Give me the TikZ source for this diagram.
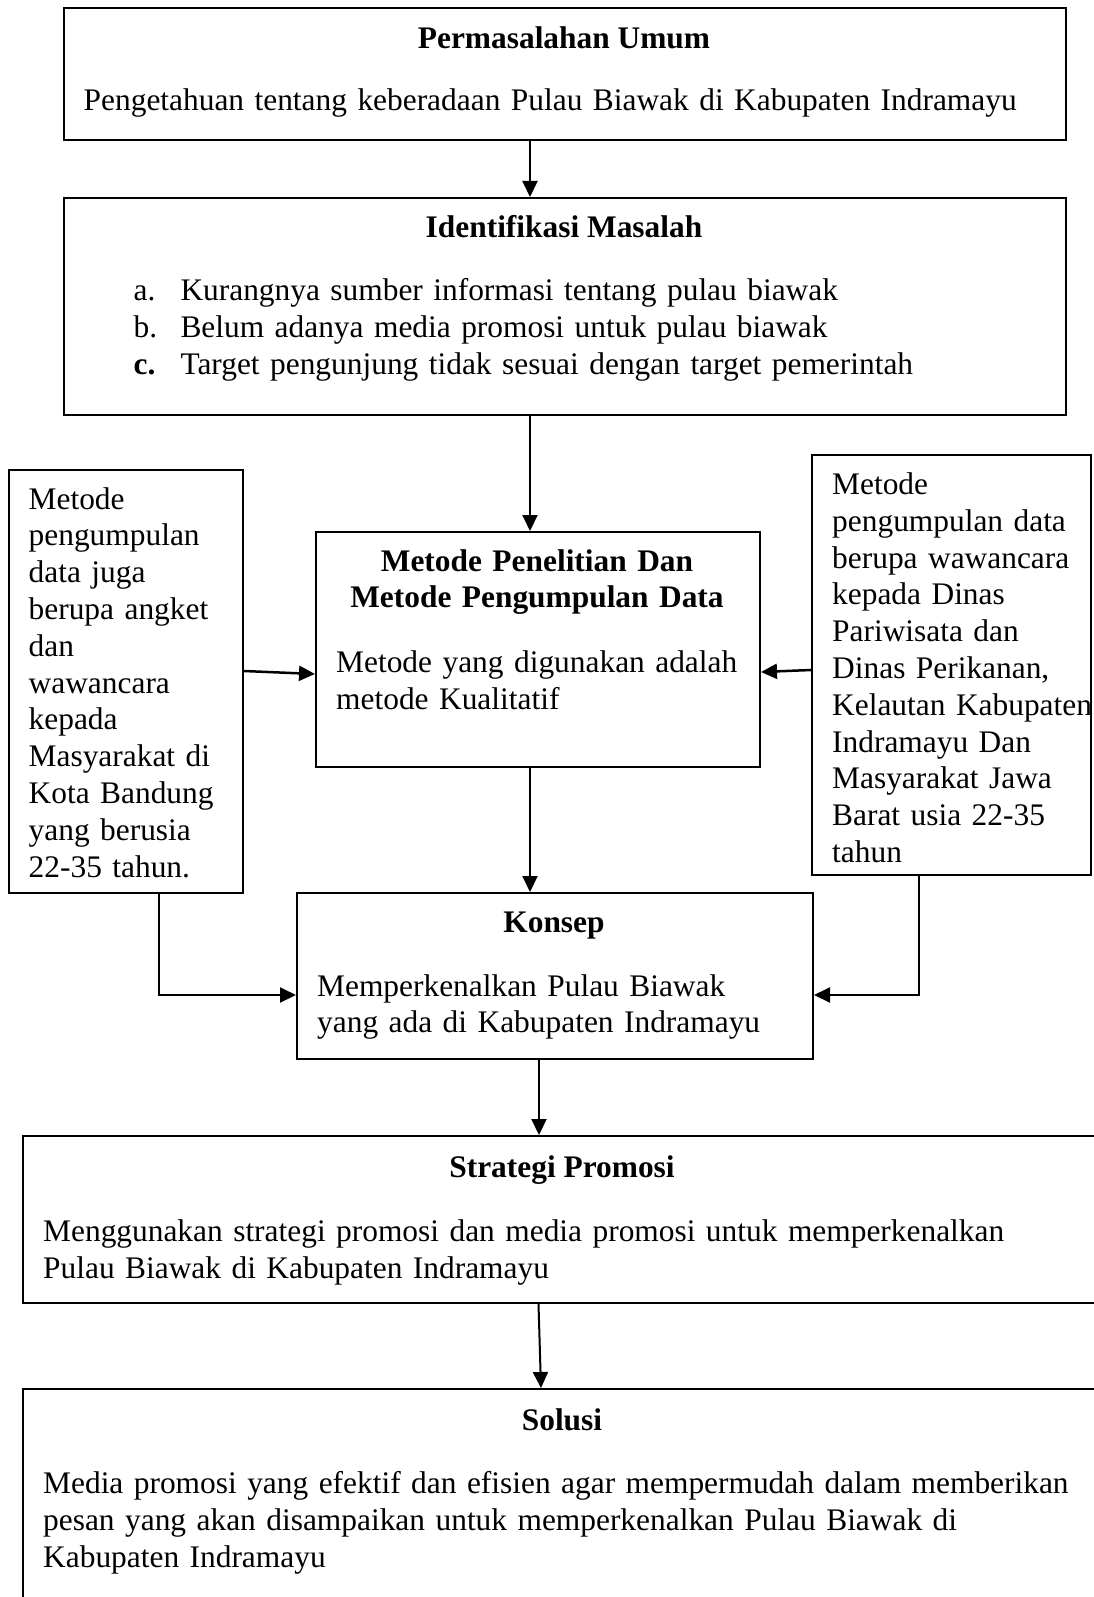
\documentclass[tikz,border=0pt]{standalone}
\usepackage{fontspec}
\setmainfont{Liberation Serif}
\usetikzlibrary{arrows.meta}
\hyphenpenalty=10000
\exhyphenpenalty=10000
\begin{document}
\begin{tikzpicture}[x=1pt,y=-1pt,
  box/.style={draw, line width=2pt, inner sep=0pt, anchor=north west},
  ttl/.style={font=\fontsize{31.4}{36.8}\selectfont\bfseries, anchor=base, inner sep=0pt},
  txt/.style={font=\fontsize{31.4}{36.8}\selectfont, anchor=base west, inner sep=0pt, text width=#1, align=left},
  txt/.default=1100pt,
  conn/.style={line width=2pt, -{Triangle[length=16pt,width=15pt]}},
]
\useasboundingbox (0,0) rectangle (1094,1597);
\fill[white] (0,0) rectangle (1094,1597);
\clip (0,0) rectangle (1094,1597);

% boxes
\node[box, minimum width=1002pt, minimum height=132pt] (b1) at (63,7) {};
\node[box, minimum width=1002pt, minimum height=217pt] (b2) at (63,197) {};
\node[box, minimum width=234pt, minimum height=423pt] (lb) at (8,469) {};
\node[box, minimum width=279pt, minimum height=420pt] (rb) at (811,454) {};
\node[box, minimum width=444pt, minimum height=235pt] (mb) at (315,531) {};
\node[box, minimum width=516pt, minimum height=166pt] (kb) at (296,892) {};
\node[box, minimum width=1080pt, minimum height=167pt] (sb) at (22,1135) {};
\node[box, minimum width=1080pt, minimum height=232pt] (ob) at (22,1388) {};

% texts
\node[ttl] (t1) at (564,49) {Permasalahan Umum};
\node[txt] (x1) at (83.5,111) {Pengetahuan tentang keberadaan Pulau Biawak di Kabupaten Indramayu};

\node[ttl] (t2) at (564,238) {Identifikasi Masalah};
\node[txt=45pt] (x2a) at (133.4,300.5) {a.\\b.\\\textbf{c.}};
\node[txt] (x2b) at (180.3,300.5) {Kurangnya sumber informasi tentang pulau biawak\\Belum adanya media promosi untuk pulau biawak\\Target pengunjung tidak sesuai dengan target pemerintah};

\node[txt=230pt] (xl) at (28.5,509) {Metode\\pengumpulan\\data juga\\berupa angket\\dan\\wawancara\\kepada\\Masyarakat di\\Kota Bandung\\yang berusia\\22-35 tahun.};

\node[txt=300pt] (xr) at (832,494.5) {Metode\\pengumpulan data\\berupa wawancara\\kepada Dinas\\Pariwisata dan\\Dinas Perikanan,\\Kelautan Kabupaten\\Indramayu Dan\\Masyarakat Jawa\\Barat usia 22-35\\tahun};

\node[ttl, text width=440pt, align=center] (t3) at (537,571) {Metode Penelitian Dan\\Metode Pengumpulan Data};
\node[txt] (x3) at (336,672.5) {Metode yang digunakan adalah\\metode Kualitatif};

\node[ttl] (t4) at (554,932) {Konsep};
\node[txt] (x4) at (317,996) {Memperkenalkan Pulau Biawak\\yang ada di Kabupaten Indramayu};

\node[ttl] (t5) at (562,1177) {Strategi Promosi};
\node[txt] (x5) at (43,1241.5) {Menggunakan strategi promosi dan media promosi untuk memperkenalkan\\Pulau Biawak di Kabupaten Indramayu};

\node[ttl] (t6) at (562,1430) {Solusi};
\node[txt] (x6) at (43,1493.5) {Media promosi yang efektif dan efisien agar mempermudah dalam memberikan\\pesan yang akan disampaikan untuk memperkenalkan Pulau Biawak di\\Kabupaten Indramayu};

% connector helper coordinates
\coordinate (c530) at (530,0);
\coordinate (c539) at (539,0);
\coordinate (c538) at (538.5,0);
\coordinate (c541) at (541,0);
\coordinate (cl) at (159,0);
\coordinate (cr) at (918.5,0);
\coordinate (ye) at (0,995);
\coordinate (yl1) at (0,671);
\coordinate (yl2) at (0,674);
\coordinate (yr1) at (0,670);
\coordinate (yr2) at (0,672);

% connectors
\draw[conn] (b1.south -| c530) -- (b2.north -| c530);
\draw[conn] (b2.south -| c530) -- (mb.north -| c530);
\draw[conn] (mb.south -| c530) -- (kb.north -| c530);
\draw[conn] (kb.south -| c539) -- (sb.north -| c539);
\draw[conn] (sb.south -| c538) -- (ob.north -| c541);
\draw[conn, line width=2.5pt] (lb.east |- yl1) -- (mb.west |- yl2);
\draw[conn, line width=2.5pt] (rb.west |- yr1) -- (mb.east |- yr2);
\draw[conn] (lb.south -| cl) |- (kb.west |- ye);
\draw[conn] (rb.south -| cr) |- (kb.east |- ye);
\end{tikzpicture}
\end{document}
